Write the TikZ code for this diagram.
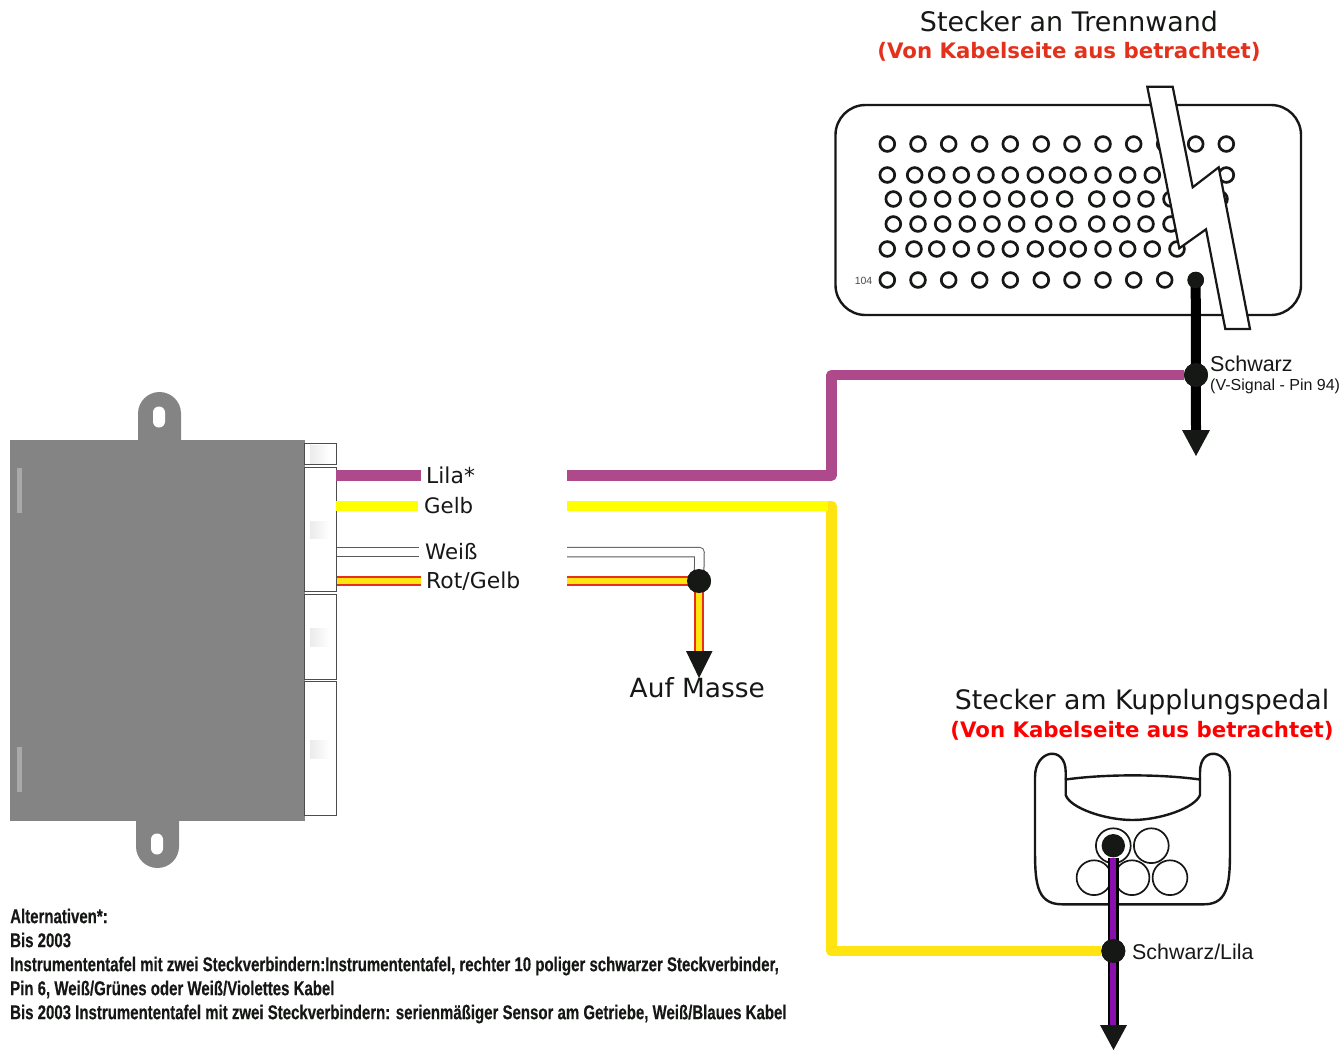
\documentclass[tikz,border=0pt]{standalone}
\usepackage{fontspec}
\setmainfont{DejaVu Sans}
\newfontfamily\arialf{Liberation Sans}
\newfontfamily\narrowf[FakeStretch=0.75,FakeBold=0.4]{Liberation Sans Bold}
\usetikzlibrary{calc}
\definecolor{lilaW}{HTML}{AE4A8C}
\definecolor{yelA}{HTML}{FFFF00}
\definecolor{yelB}{HTML}{FFE411}
\definecolor{redW}{HTML}{E4311C}
\definecolor{purpW}{HTML}{8A0FAE}
\definecolor{boxG}{HTML}{848484}
\definecolor{inkK}{HTML}{161816}
\tikzset{
 lbl/.style={inner sep=0pt,anchor=west,text=inkK},
 pin/.style={circle,draw=inkK,line width=2.7pt,minimum size=14.8pt,inner sep=0pt},
 dotk/.style={circle,fill=inkK,minimum size=24pt,inner sep=0pt},
 lila/.style={draw=lilaW,line width=10.5pt,line join=round},
 gelb/.style={draw=yelA,line width=10.5pt},
 gelbb/.style={draw=yelB,line width=10.5pt,line join=round},
 conn/.style={draw=inkK,line width=2.4pt,fill=white},
 plug/.style={draw=black!70,line width=1pt,fill=white},
 hl/.style={left color=black!8,right color=white,draw=none},
 bar/.style={fill=white!30!boxG,draw=none},
 tip/.style={fill=inkK,draw=none},
 cav/.style={circle,draw=inkK,line width=1.7pt,minimum size=34.8pt,inner sep=0pt,fill=white},
}
\newcommand{\redyel}[1]{%
 \draw[redW,line width=10.5pt] #1;
 \draw[yelB,line width=6pt] #1;}
\newcommand{\whitew}[1]{%
 \draw[black!65,line width=10.5pt,line join=round] #1;
 \draw[white,line width=8.5pt,line join=round] #1;}
\begin{document}
\begin{tikzpicture}[x=1pt,y=-1pt]
\useasboundingbox (0,0) rectangle (1339,1050);
% device
\fill[boxG] (138,445) -- (138,413.5) arc[start angle=180,end angle=360,radius=21.5] -- (181,445) -- cycle;
\fill[boxG] (136,815) -- (136,846.5) arc[start angle=180,end angle=0,radius=21.5] -- (179,815) -- cycle;
\node[fill=boxG,minimum width=294.5pt,minimum height=381.5pt,inner sep=0pt,anchor=north west] (dev) at (10,439.5) {};
\fill[white,rounded corners=5.9pt] (153,406.5) rectangle (165,427.5);
\fill[white,rounded corners=5.9pt] (151,833.5) rectangle (163,854.5);
\fill[bar] (17,468) rectangle (21.5,513);
\fill[bar] (17,747) rectangle (21.5,792);
% plugs
\node[plug,minimum width=32pt,minimum height=21.5pt,inner sep=0pt,anchor=north west] (p1) at (304,442.5) {};
\node[plug,minimum width=32pt,minimum height=124pt,inner sep=0pt,anchor=north west] (p2) at (304,466.5) {};
\node[plug,minimum width=32pt,minimum height=85.5pt,inner sep=0pt,anchor=north west] (p3) at (304,593.5) {};
\node[plug,minimum width=32pt,minimum height=134pt,inner sep=0pt,anchor=north west] (p4) at (304,681) {};
\fill[hl] (310,445) rectangle (330,463);
\fill[hl] (310,521) rectangle (330,538);
\fill[hl] (310,628) rectangle (330,646);
\fill[hl] (310,740) rectangle (330,758);
% connector Trennwand
\draw[conn,rounded corners=30pt] (835.5,105) rectangle (1301,315);
\foreach \x in {887.3,918,948.7,979.7,1010.3,1041.3,1072,1103,1133.7,1164.7,1195.7,1226.3}
 \node[pin] at (\x,144) {};
\foreach \x in {887.3,914.7,936.7,961.3,986,1010.3,1035.3,1057.3,1078.3,1103,1127.7,1152.3,1177,1226.3}
 \node[pin] at (\x,175) {};
\foreach \x in {893.3,918,942.7,967.3,992,1016.7,1039.3,1064.7,1096.7,1121.7,1146,1171,1220}
 \node[pin] at (\x,199) {};
\foreach \x in {893.3,918,942.7,967.3,992,1016.7,1043.7,1068,1096.7,1121.7,1146,1171}
 \node[pin] at (\x,224) {};
\foreach \x in {887.3,914,936.7,961.3,986,1010.3,1035.3,1057.3,1078.3,1103,1127.7,1152.3,1177}
 \node[pin] at (\x,249) {};
\foreach \x in {887.3,918,948.7,979.7,1010.3,1041.3,1072,1103,1133.7,1164.7}
 \node[pin] at (\x,280) {};
\node[inner sep=0pt,anchor=east,text=black!70] (n104) at (872.5,280.5) {\arialf\fontsize{10.5}{11}\selectfont 104};
% bolt
\draw[fill=white,draw=inkK,line width=2.2pt,line join=miter] (1147.3,86.7) -- (1172.7,86.7) -- (1192.7,187.3) -- (1218.7,167.3) -- (1250,329) -- (1225.3,329) -- (1206,229.3) -- (1179.3,248.3) -- cycle;
% junctions
\node[circle,fill=inkK,minimum size=16.5pt,inner sep=0pt] (pin94) at (1195.7,280) {};
\node[dotk] (j1) at (1196,375) {};
\coordinate (a1) at (1196,432);
% long wires
\coordinate (lilaL) at (567,475.5);
\coordinate (lilaC) at (831.5,475.5);
\coordinate (lilaD) at (831.5,375);
\draw[lila] (lilaL) -- (lilaC) -- (lilaD) -- (j1);
\draw[line width=10pt,black] (pin94.center) -- (a1);
\node[circle,fill=inkK,minimum size=16.5pt,inner sep=0pt] at (pin94) {};
\node[dotk] at (j1) {};
\fill[tip] (1182,430) -- (1210,430) -- (1196,456) -- cycle;
% yellow
\coordinate (gL) at (567,506);
\coordinate (gC) at (831.5,506);
\coordinate (gD) at (831.5,951);
\node[dotk] (j2) at (1113.3,951) {};
\draw[gelbb] ($(gC)+(-4,0)$) -- (gC) -- (gD) -- (j2);
\draw[gelb] (gL) -- ($(gC)+(-4,0)$);
% pedal connector
\draw[conn] (1065.7,779.5) -- (1065.7,772) .. controls (1065.7,745) and (1035,749) .. (1035,777) -- (1035,845) .. controls (1035,880) and (1035,904.3) .. (1062,904.3) -- (1204,904.3) .. controls (1230,904.3) and (1230,880) .. (1230,845) -- (1230,777) .. controls (1230,749) and (1200,745) .. (1200,772) -- (1200,779.5);
\draw[inkK,line width=2.4pt] (1065.7,779.5) .. controls (1105,774) and (1160,774) .. (1200,779.5) -- (1200,795) .. controls (1195,808) and (1160,820) .. (1132.5,820) .. controls (1105,820) and (1070,808) .. (1065.7,795) -- cycle;
\node[cav] (c1) at (1113.3,845.7) {};
\node[cav] (c2) at (1151.3,845.7) {};
\node[cav] (c3) at (1094,877.7) {};
\node[cav] (c4) at (1132,877.7) {};
\node[cav] (c5) at (1170,877.7) {};
\node[circle,fill=inkK,minimum size=23.4pt,inner sep=0pt] (c1k) at (c1) {};
\coordinate (a2) at (1113.3,1027);
\draw[black,line width=10.5pt] (c1k.south) -- (a2);
\draw[purpW,line width=5.8pt] (c1k.south) -- (a2);
\node[dotk] at (j2) {};
\fill[tip] (1100,1025) -- (1127,1025) -- (1113.5,1050) -- cycle;
% Weiss / rot-gelb
\node[dotk] (j3) at (699,581) {};
\coordinate (wL) at (567,552);
\coordinate (wC) at (699.5,552);
\whitew{(wL) -- (wC) -- (j3.center)}
\coordinate (rL) at (567,581);
\coordinate (a3) at (699,653);
\redyel{(rL) -- (j3.center) -- (a3)}
\node[dotk] at (j3) {};
\fill[tip] (686,651) -- (712.5,651) -- (699,678) -- cycle;
% stubs
\draw[lilaW,line width=10.5pt] (336,475.5) -- (420.5,475.5);
\draw[yelA,line width=10.5pt] (336,506) -- (417.5,506);
\whitew{(337,552) -- (419,552)}
\redyel{(336.5,581) -- (420.5,581)}
% labels
\node[lbl,font=\fontsize{21.9}{24}\selectfont] (t1) at (426,475) {Lila*};
\node[lbl,font=\fontsize{21.3}{24}\selectfont] (t2) at (424,505.5) {Gelb};
\node[lbl,font=\fontsize{21.3}{24}\selectfont] (t3) at (425,552) {Weiß};
\node[lbl,font=\fontsize{21.9}{24}\selectfont] (t4) at (426,581.5) {Rot/Gelb};
\node[lbl,font=\fontsize{26.4}{28}\selectfont] (t5) at (629.5,688) {Auf Masse};
\node[inner sep=0pt,text=inkK,font=\fontsize{26.9}{28}\selectfont] (t6) at (1069,21.5) {Stecker an Trennwand};
\node[inner sep=0pt,text=redW,font=\bfseries\fontsize{21.3}{24}\selectfont] (t7) at (1069,51.5) {(Von Kabelseite aus betrachtet)};
\node[inner sep=0pt,text=inkK,font=\fontsize{26.8}{28}\selectfont] (t8) at (1142,702) {Stecker am Kupplungspedal};
\node[inner sep=0pt,text=red,font=\bfseries\fontsize{21.3}{24}\selectfont] (t9) at (1142,731) {(Von Kabelseite aus betrachtet)};
\node[lbl,font=\arialf\fontsize{21.5}{24}\selectfont] (t10) at (1210,364) {Schwarz};
\node[lbl,font=\arialf\fontsize{16}{18}\selectfont] (t11) at (1210,386.5) {(V-Signal - Pin 94)};
\node[lbl,font=\arialf\fontsize{21.4}{24}\selectfont] (t12) at (1132,952) {Schwarz/Lila};
\node[lbl,anchor=north west,align=left,font=\narrowf\fontsize{20}{24}\selectfont] (t13) at (10,908.5) {Alternativen*:\\Bis 2003\\Instrumententafel mit zwei Steckverbindern:Instrumententafel, rechter 10 poliger schwarzer Steckverbinder,\\Pin 6, Weiß/Grünes oder Weiß/Violettes Kabel\\Bis 2003 Instrumententafel mit zwei Steckverbindern: serienmäßiger Sensor am Getriebe, Weiß/Blaues Kabel};
\end{tikzpicture}
\end{document}
